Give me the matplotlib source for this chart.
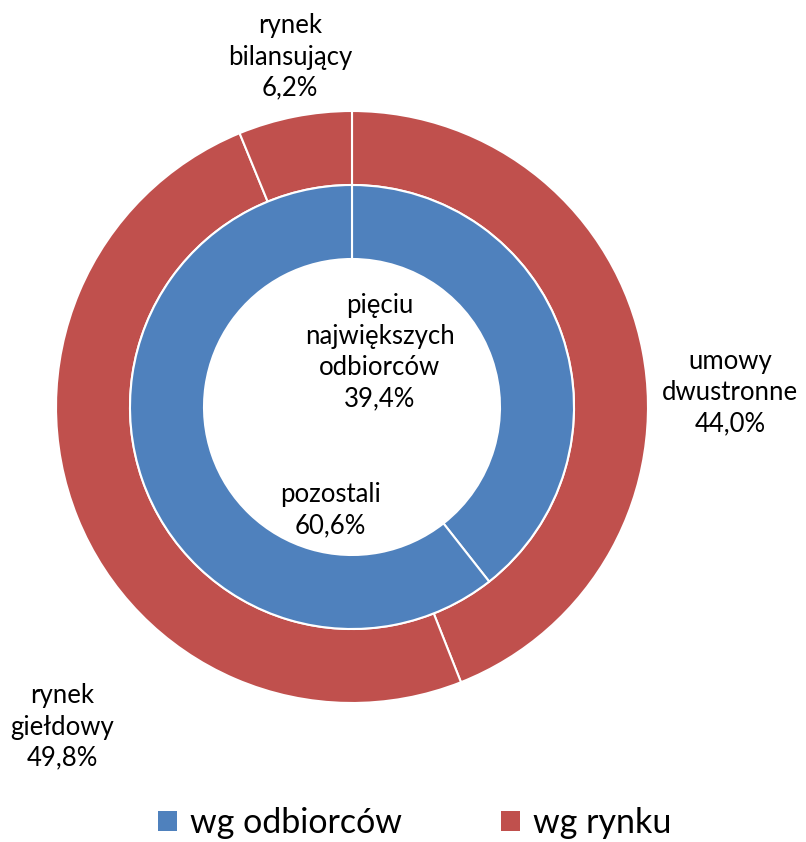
import numpy as np
import matplotlib.pyplot as plt
from matplotlib.patches import Patch

plt.rcParams['font.family'] = ['Lato', 'DejaVu Sans']

# data
market_labels = ['umowy\ndwustronne', 'rynek\ngiełdowy', 'rynek\nbilansujący']
market_values = [44.0, 49.8, 6.2]
buyer_labels = ['pięciu\nnajwiększych\nodbiorców', 'pozostali']
buyer_values = [39.4, 60.6]
series_names = ['wg odbiorców', 'wg rynku']

blue = '#4F81BD'
red = '#C0504D'

W, H = 806, 842
fig = plt.figure(figsize=(W / 100, H / 100), dpi=100)
ax = fig.add_axes([0, 0, 1, 1])

cx, cy = 352, H - 407
r_out, r_mid, r_in = 296, 222, 148

ax.pie(market_values, radius=r_out, center=(cx, cy), startangle=90, counterclock=False,
       colors=[red] * 3, wedgeprops=dict(width=r_out - r_mid, edgecolor='white', linewidth=1.5),
       frame=True)
ax.pie(buyer_values, radius=r_mid, center=(cx, cy), startangle=90, counterclock=False,
       colors=[blue] * 2, wedgeprops=dict(width=r_mid - r_in, edgecolor='white', linewidth=1.5),
       frame=True)
ax.set_xlim(0, W)
ax.set_ylim(0, H)
ax.axis('off')

def fmt(v):
    return f'{v:.1f}%'.replace('.', ',')

fs = 18.5
# label positions (pixels from top-left)
market_pos = [(730, 393), (62, 727), (290, 57)]
for lab, v, (x, y) in zip(market_labels, market_values, market_pos):
    ax.text(x, H - y, lab + '\n' + fmt(v), ha='center', va='center', fontsize=fs,
            linespacing=1.3)

buyer_pos = [(380, 352), (330, 510)]
for lab, v, (x, y) in zip(buyer_labels, buyer_values, buyer_pos):
    ax.text(x, H - y, lab + '\n' + fmt(v), ha='center', va='center', fontsize=fs,
            linespacing=1.3)

handles = [Patch(facecolor=blue), Patch(facecolor=red)]
fig.legend(handles, series_names, loc='center', bbox_to_anchor=(415 / W, 1 - 823 / H),
           ncol=2, frameon=False, fontsize=24.5, handlelength=0.55, handleheight=0.55,
           handletextpad=0.4, columnspacing=2.9)

fig.savefig('out.png', dpi=100)
